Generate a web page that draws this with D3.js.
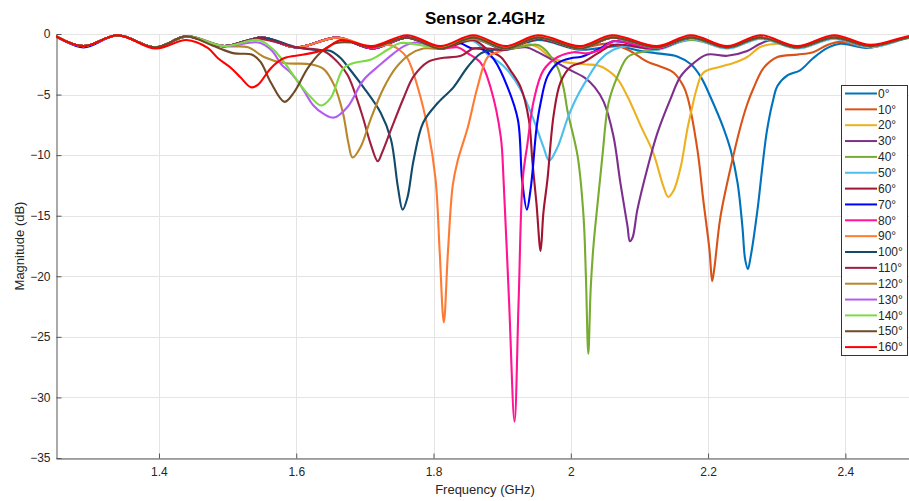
<!DOCTYPE html>
<html>
<head>
<meta charset="utf-8">
<script src="https://cdn.jsdelivr.net/npm/d3@7/dist/d3.min.js"></script>
<style>
  body { margin: 0; background: #fff; }
  svg { display: block; font-family: "Liberation Sans", Arial, sans-serif; }
</style>
</head>
<body>
<svg id="chart" width="909" height="501"></svg>
<script>
// Legend labels (incidence angle)
const angles = ["0°", "10°", "20°", "30°", "40°", "50°", "60°", "70°", "80°", "90°",
                "100°", "110°", "120°", "130°", "140°", "150°", "160°"];

const colors = ["#0072BD", "#D95319", "#EDB120", "#7E2F8E", "#77AC30", "#4DBEEE", "#A2142F",
                "#0000FF", "#FF1493", "#FF7A33", "#124A6C", "#A01E3E", "#B8862B", "#B35CF2",
                "#7CDB45", "#6E4A26", "#FF0000"];

const xTicks = [1.4, 1.6, 1.8, 2, 2.2, 2.4];
const yTicks = [0, -5, -10, -15, -20, -25, -30, -35];

// [frequency GHz, magnitude dB]
const s0 = [[1.25,-0.2],[1.29,-1.0],[1.34,-0.1],[1.395,-1.1],[1.44,-0.2],[1.495,-1.0],[1.55,-0.3],[1.60,-1.1],[1.66,-0.3],[1.71,-1.2],[1.762,-0.3],[1.81,-1.2],[1.858,-0.4],[1.905,-1.3],[1.952,-0.5],[2.014,-1.3],[2.068,-1.0],[2.097,-1.35],[2.126,-1.6],[2.155,-1.85],[2.175,-2.5],[2.19,-3.6],[2.2035,-5.2],[2.222,-7.7],[2.233,-9.6],[2.243,-12.3],[2.25,-15.9],[2.254,-18.6],[2.258,-19.4],[2.262,-18.4],[2.272,-14.5],[2.279,-11.0],[2.286,-7.9],[2.295,-5.4],[2.301,-4.3],[2.316,-3.4],[2.334,-3.0],[2.353,-2.0],[2.374,-1.15],[2.393,-0.8],[2.432,-1.15],[2.49,-0.35],[2.5,-0.3]];
const s10 = [[1.25,-0.2],[1.29,-1.0],[1.34,-0.1],[1.395,-1.1],[1.44,-0.2],[1.495,-1.0],[1.55,-0.3],[1.60,-1.1],[1.66,-0.3],[1.71,-1.2],[1.762,-0.3],[1.81,-1.2],[1.858,-0.3],[1.905,-1.2],[1.952,-0.3],[2.014,-1.1],[2.054,-0.8],[2.083,-1.3],[2.112,-2.3],[2.131,-2.7],[2.15,-3.2],[2.164,-4.3],[2.17,-5.2],[2.1846,-9.6],[2.193,-13.7],[2.202,-17.8],[2.206,-20.4],[2.209,-19.4],[2.218,-15.1],[2.233,-11.0],[2.247,-7.7],[2.257,-5.8],[2.266,-4.5],[2.281,-2.8],[2.301,-1.9],[2.33,-1.7],[2.353,-1.5],[2.374,-0.9],[2.393,-0.65],[2.436,-1.1],[2.49,-0.3],[2.5,-0.25]];
const s20 = [[1.25,-0.2],[1.29,-1.0],[1.34,-0.1],[1.395,-1.1],[1.44,-0.2],[1.495,-1.0],[1.55,-0.3],[1.60,-1.1],[1.66,-0.3],[1.71,-1.2],[1.762,-0.3],[1.81,-1.2],[1.858,-0.3],[1.905,-1.2],[1.935,-0.8],[1.952,-1.1],[1.97,-1.9],[1.99,-2.3],[2.02,-2.5],[2.04,-2.6],[2.054,-3.0],[2.068,-3.7],[2.083,-5.2],[2.102,-7.6],[2.12,-9.8],[2.135,-12.6],[2.142,-13.45],[2.15,-12.9],[2.16,-11.0],[2.17,-7.8],[2.177,-6.0],[2.183,-4.6],[2.193,-3.2],[2.218,-2.7],[2.237,-2.4],[2.257,-1.9],[2.276,-1.07],[2.301,-0.8],[2.33,-1.1],[2.383,-0.3],[2.436,-1.0],[2.49,-0.3],[2.5,-0.25]];
const s30 = [[1.25,-0.2],[1.29,-1.0],[1.34,-0.1],[1.395,-1.1],[1.44,-0.2],[1.495,-1.0],[1.55,-0.3],[1.60,-1.1],[1.66,-0.3],[1.71,-1.2],[1.762,-0.3],[1.81,-1.2],[1.858,-0.3],[1.905,-1.2],[1.935,-1.1],[1.952,-1.5],[1.981,-2.4],[2.0,-3.0],[2.02,-3.6],[2.035,-4.4],[2.048,-5.6],[2.062,-8.4],[2.072,-12.2],[2.0827,-15.9],[2.086,-17.1],[2.09,-16.8],[2.097,-14.5],[2.112,-11.0],[2.126,-8.2],[2.145,-5.4],[2.16,-3.5],[2.179,-2.4],[2.199,-1.7],[2.228,-1.8],[2.257,-1.4],[2.276,-0.8],[2.295,-0.5],[2.33,-1.1],[2.383,-0.3],[2.436,-1.0],[2.49,-0.3],[2.5,-0.25]];
const s40 = [[1.25,-0.2],[1.29,-1.0],[1.34,-0.1],[1.395,-1.1],[1.44,-0.2],[1.495,-1.0],[1.55,-0.3],[1.60,-1.1],[1.66,-0.3],[1.71,-1.2],[1.762,-0.3],[1.81,-1.2],[1.858,-0.3],[1.905,-1.2],[1.952,-0.9],[1.966,-1.5],[1.981,-2.8],[1.99,-4.6],[1.995,-6.3],[2.01,-10.1],[2.0186,-15.1],[2.022,-20.0],[2.0255,-26.4],[2.029,-21.0],[2.033,-17.5],[2.039,-14.0],[2.046,-10.1],[2.055,-5.7],[2.068,-3.5],[2.083,-1.9],[2.102,-1.5],[2.126,-1.3],[2.175,-0.5],[2.228,-1.1],[2.276,-0.3],[2.33,-1.1],[2.383,-0.3],[2.436,-1.0],[2.49,-0.3],[2.5,-0.25]];
const s50 = [[1.25,-0.2],[1.29,-1.0],[1.34,-0.1],[1.395,-1.1],[1.44,-0.2],[1.495,-1.0],[1.55,-0.3],[1.60,-1.1],[1.66,-0.3],[1.71,-1.2],[1.762,-0.3],[1.81,-1.2],[1.858,-0.6],[1.879,-1.7],[1.895,-2.3],[1.908,-3.0],[1.927,-4.6],[1.946,-7.1],[1.96,-9.3],[1.9685,-10.45],[1.981,-9.3],[1.995,-7.0],[2.008,-5.3],[2.024,-3.7],[2.043,-2.1],[2.062,-1.3],[2.083,-1.0],[2.126,-1.3],[2.175,-0.4],[2.228,-1.2],[2.276,-0.4],[2.33,-1.2],[2.383,-0.4],[2.436,-1.1],[2.49,-0.35],[2.5,-0.3]];
const s60 = [[1.25,-0.2],[1.29,-1.0],[1.34,-0.1],[1.395,-1.1],[1.44,-0.2],[1.495,-1.0],[1.55,-0.3],[1.60,-1.1],[1.66,-0.3],[1.71,-1.2],[1.762,-0.3],[1.81,-1.2],[1.858,-0.5],[1.879,-1.3],[1.898,-1.9],[1.912,-3.0],[1.927,-4.4],[1.939,-7.1],[1.944,-10.5],[1.95,-14.0],[1.956,-17.9],[1.96,-14.8],[1.966,-12.0],[1.975,-6.7],[1.985,-4.0],[2.0,-2.7],[2.019,-2.3],[2.039,-1.6],[2.062,-0.9],[2.126,-1.2],[2.175,-0.3],[2.228,-1.1],[2.276,-0.3],[2.33,-1.1],[2.383,-0.3],[2.436,-1.0],[2.49,-0.3],[2.5,-0.25]];
const s70 = [[1.25,-0.2],[1.29,-1.1],[1.34,-0.1],[1.395,-1.1],[1.44,-0.2],[1.495,-1.0],[1.55,-0.3],[1.60,-1.1],[1.66,-0.3],[1.71,-1.2],[1.762,-0.3],[1.81,-1.2],[1.835,-0.7],[1.854,-1.15],[1.873,-1.3],[1.888,-2.1],[1.908,-4.4],[1.923,-7.1],[1.929,-12.0],[1.936,-14.5],[1.941,-13.0],[1.944,-11.5],[1.95,-7.8],[1.956,-5.7],[1.966,-3.5],[1.981,-2.4],[2.0,-2.0],[2.014,-1.9],[2.024,-1.7],[2.043,-1.2],[2.062,-0.6],[2.126,-1.2],[2.175,-0.3],[2.228,-1.1],[2.276,-0.3],[2.33,-1.1],[2.383,-0.3],[2.436,-1.0],[2.49,-0.3],[2.5,-0.25]];
const s80 = [[1.25,-0.2],[1.29,-1.0],[1.34,-0.1],[1.395,-1.1],[1.44,-0.2],[1.495,-1.0],[1.55,-0.3],[1.60,-1.1],[1.66,-0.3],[1.71,-1.2],[1.762,-0.3],[1.81,-1.2],[1.835,-1.1],[1.85,-1.6],[1.869,-2.4],[1.883,-4.4],[1.898,-8.5],[1.902,-12.0],[1.91,-22.0],[1.918,-32.0],[1.924,-22.0],[1.93,-12.0],[1.937,-9.0],[1.946,-5.5],[1.96,-3.0],[1.981,-1.9],[2.004,-1.5],[2.024,-1.6],[2.043,-1.3],[2.062,-0.6],[2.126,-1.2],[2.175,-0.3],[2.228,-1.1],[2.276,-0.3],[2.33,-1.1],[2.383,-0.3],[2.436,-1.0],[2.49,-0.3],[2.5,-0.25]];
const s90 = [[1.25,-0.2],[1.29,-1.0],[1.34,-0.1],[1.395,-1.1],[1.44,-0.2],[1.495,-1.0],[1.55,-0.3],[1.60,-1.1],[1.66,-0.3],[1.71,-1.1],[1.735,-0.9],[1.75,-1.3],[1.762,-2.0],[1.777,-4.4],[1.792,-7.9],[1.803,-12.0],[1.809,-18.0],[1.815,-23.8],[1.821,-18.0],[1.828,-12.5],[1.835,-10.5],[1.85,-7.7],[1.864,-4.4],[1.879,-1.9],[1.893,-1.5],[1.905,-1.3],[1.952,-0.3],[2.014,-1.2],[2.06,-0.3],[2.126,-1.1],[2.175,-0.3],[2.228,-1.1],[2.276,-0.3],[2.33,-1.1],[2.383,-0.3],[2.436,-1.0],[2.49,-0.3],[2.5,-0.25]];
const s100 = [[1.25,-0.2],[1.29,-1.0],[1.34,-0.1],[1.395,-1.1],[1.44,-0.2],[1.495,-1.0],[1.55,-0.3],[1.60,-1.1],[1.626,-1.3],[1.65,-1.4],[1.665,-2.0],[1.675,-2.7],[1.698,-4.4],[1.723,-6.5],[1.738,-8.7],[1.748,-12.6],[1.755,-14.5],[1.762,-13.5],[1.771,-10.4],[1.785,-7.3],[1.806,-5.7],[1.829,-4.4],[1.85,-2.7],[1.869,-1.6],[1.888,-1.3],[1.905,-1.3],[1.952,-0.4],[2.014,-1.2],[2.06,-0.3],[2.126,-1.1],[2.175,-0.3],[2.228,-1.1],[2.276,-0.3],[2.33,-1.1],[2.383,-0.3],[2.436,-1.0],[2.49,-0.3],[2.5,-0.25]];
const s110 = [[1.25,-0.2],[1.29,-1.0],[1.34,-0.1],[1.395,-1.1],[1.44,-0.2],[1.495,-1.0],[1.545,-0.4],[1.60,-1.1],[1.64,-1.4],[1.66,-2.3],[1.675,-3.4],[1.695,-6.5],[1.708,-9.0],[1.7188,-10.5],[1.725,-9.8],[1.738,-7.9],[1.757,-5.2],[1.771,-3.5],[1.792,-2.3],[1.81,-2.0],[1.84,-1.8],[1.858,-1.2],[1.88,-1.2],[1.905,-1.3],[1.952,-0.4],[2.014,-1.2],[2.06,-0.3],[2.126,-1.1],[2.175,-0.3],[2.228,-1.1],[2.276,-0.3],[2.33,-1.1],[2.383,-0.3],[2.436,-1.0],[2.49,-0.3],[2.5,-0.25]];
const s120 = [[1.25,-0.2],[1.29,-1.0],[1.34,-0.1],[1.395,-1.1],[1.44,-0.2],[1.495,-1.0],[1.53,-1.1],[1.553,-1.9],[1.582,-2.4],[1.621,-2.5],[1.64,-2.9],[1.655,-4.2],[1.668,-6.5],[1.676,-9.0],[1.682,-10.2],[1.694,-9.3],[1.708,-7.1],[1.727,-4.5],[1.745,-2.8],[1.765,-1.7],[1.785,-1.2],[1.81,-1.2],[1.858,-0.4],[1.905,-1.2],[1.952,-0.3],[2.014,-1.2],[2.06,-0.3],[2.126,-1.1],[2.175,-0.3],[2.228,-1.1],[2.276,-0.3],[2.33,-1.1],[2.383,-0.3],[2.436,-1.0],[2.49,-0.3],[2.5,-0.25]];
const s130 = [[1.25,-0.2],[1.29,-1.0],[1.34,-0.1],[1.395,-1.1],[1.44,-0.2],[1.495,-1.0],[1.545,-0.7],[1.565,-1.4],[1.578,-2.5],[1.592,-3.2],[1.607,-4.3],[1.625,-5.9],[1.64,-6.6],[1.655,-6.9],[1.675,-6.0],[1.698,-3.8],[1.723,-2.5],[1.742,-1.6],[1.757,-1.0],[1.775,-0.7],[1.81,-1.1],[1.858,-0.3],[1.905,-1.2],[1.952,-0.3],[2.014,-1.2],[2.06,-0.3],[2.126,-1.1],[2.175,-0.3],[2.228,-1.1],[2.276,-0.3],[2.33,-1.1],[2.383,-0.3],[2.436,-1.0],[2.49,-0.3],[2.5,-0.25]];
const s140 = [[1.25,-0.2],[1.29,-1.0],[1.34,-0.1],[1.395,-1.1],[1.44,-0.2],[1.495,-1.0],[1.545,-0.5],[1.565,-1.2],[1.578,-2.0],[1.602,-3.9],[1.621,-5.2],[1.636,-5.9],[1.65,-5.3],[1.669,-2.8],[1.684,-2.4],[1.709,-2.1],[1.733,-1.3],[1.752,-0.75],[1.81,-1.1],[1.858,-0.3],[1.905,-1.2],[1.952,-0.3],[2.014,-1.2],[2.06,-0.3],[2.126,-1.1],[2.175,-0.3],[2.228,-1.1],[2.276,-0.3],[2.33,-1.1],[2.383,-0.3],[2.436,-1.0],[2.49,-0.3],[2.5,-0.25]];
const s150 = [[1.25,-0.2],[1.29,-1.0],[1.34,-0.1],[1.395,-1.1],[1.44,-0.2],[1.48,-1.0],[1.51,-1.6],[1.535,-1.7],[1.548,-2.3],[1.563,-4.0],[1.583,-5.6],[1.597,-4.8],[1.617,-2.8],[1.636,-1.5],[1.658,-0.75],[1.68,-0.7],[1.71,-1.1],[1.762,-0.3],[1.81,-1.2],[1.858,-0.3],[1.905,-1.2],[1.952,-0.3],[2.014,-1.2],[2.06,-0.3],[2.126,-1.1],[2.175,-0.3],[2.228,-1.1],[2.276,-0.3],[2.33,-1.1],[2.383,-0.3],[2.436,-1.0],[2.49,-0.3],[2.5,-0.25]];
const s160 = [[1.25,-0.2],[1.29,-1.0],[1.34,-0.1],[1.395,-1.2],[1.44,-0.5],[1.471,-1.15],[1.486,-2.0],[1.505,-2.8],[1.519,-3.6],[1.534,-4.4],[1.544,-4.2],[1.559,-3.1],[1.567,-2.6],[1.582,-2.0],[1.611,-1.7],[1.64,-1.3],[1.665,-0.5],[1.71,-1.0],[1.762,-0.1],[1.81,-1.0],[1.858,-0.1],[1.905,-1.0],[1.952,-0.1],[2.014,-1.0],[2.06,-0.1],[2.126,-1.0],[2.175,-0.1],[2.228,-1.0],[2.276,-0.1],[2.33,-1.0],[2.383,-0.1],[2.436,-0.9],[2.49,-0.2],[2.5,-0.15]];

const seriesData = [s0, s10, s20, s30, s40, s50, s60, s70, s80, s90, s100, s110, s120, s130, s140, s150, s160];

const svg = d3.select("#chart");
const margin = { top: 34, left: 56, bottom: 43 };
const height = 501;
const plotBottom = height - margin.bottom;

const x = d3.scaleLinear().domain([1.25, 2.5]).range([margin.left, 914]);
const y = d3.scaleLinear().domain([-35, 0]).range([plotBottom, margin.top]);

const fontColor = "#262626";

// Grid
svg.append("g").selectAll("line.gx")
    .data(xTicks).join("line")
    .attr("x1", d => Math.round(x(d)) + 0.5).attr("x2", d => Math.round(x(d)) + 0.5)
    .attr("y1", margin.top).attr("y2", plotBottom)
    .attr("stroke", "#e4e4e4").attr("stroke-width", 1);

svg.append("g").selectAll("line.gy")
    .data(yTicks).join("line")
    .attr("x1", margin.left).attr("x2", 909)
    .attr("y1", d => Math.round(y(d)) + 0.5).attr("y2", d => Math.round(y(d)) + 0.5)
    .attr("stroke", "#e4e4e4").attr("stroke-width", 1);

// Axes (MATLAB style: inward ticks)
const xAxis = svg.append("g")
    .attr("transform", `translate(0, ${plotBottom + 0.5})`)
    .call(d3.axisBottom(x).tickValues(xTicks).tickSizeInner(-5).tickSizeOuter(0).tickPadding(7).tickFormat(d3.format("")));
const yAxis = svg.append("g")
    .attr("transform", `translate(${margin.left + 0.5}, 0)`)
    .call(d3.axisLeft(y).tickValues(yTicks).tickSizeInner(-5).tickSizeOuter(0).tickPadding(6).tickFormat(d3.format("")));

[xAxis, yAxis].forEach(a => {
    a.select(".domain").attr("stroke", "#555").attr("stroke-width", 1);
    a.selectAll(".tick line").attr("stroke", "#555");
    a.selectAll(".tick text")
        .attr("fill", fontColor)
        .style("font-size", "12px")
        .style("font-family", "'Liberation Sans', Arial, sans-serif");
});
xAxis.selectAll(".tick text").attr("dy", "0.9em");

// Lines
svg.append("clipPath").attr("id", "plotclip")
    .append("rect")
    .attr("x", margin.left).attr("y", margin.top - 6)
    .attr("width", 914 - margin.left).attr("height", plotBottom - margin.top + 6);

const line = d3.line()
    .x(d => x(d[0]))
    .y(d => y(d[1]))
    .curve(d3.curveCatmullRom.alpha(0.5));

svg.append("g").attr("clip-path", "url(#plotclip)")
    .selectAll("path")
    .data(seriesData).join("path")
    .attr("d", line)
    .attr("fill", "none")
    .attr("stroke", (d, i) => colors[i])
    .attr("stroke-width", 2.1)
    .attr("stroke-linejoin", "round");

// Title
svg.append("text")
    .attr("x", (margin.left + 914) / 2)
    .attr("y", 24)
    .attr("text-anchor", "middle")
    .attr("font-size", 17)
    .attr("font-weight", "bold")
    .attr("fill", "#000")
    .text("Sensor 2.4GHz");

// Axis labels
svg.append("text")
    .attr("x", (margin.left + 914) / 2)
    .attr("y", 494)
    .attr("text-anchor", "middle")
    .attr("font-size", 13)
    .attr("fill", fontColor)
    .text("Frequency (GHz)");

svg.append("text")
    .attr("transform", "rotate(-90)")
    .attr("x", -(margin.top + plotBottom) / 2)
    .attr("y", 24)
    .attr("text-anchor", "middle")
    .attr("font-size", 13)
    .attr("fill", fontColor)
    .text("Magnitude (dB)");

// Legend
const legend = svg.append("g").attr("transform", "translate(841, 85)");
legend.append("rect")
    .attr("x", 0.5).attr("y", 0.5)
    .attr("width", 66).attr("height", 270)
    .attr("fill", "#fff")
    .attr("stroke", "#333").attr("stroke-width", 1);

const rows = legend.selectAll("g.row")
    .data(angles).join("g")
    .attr("transform", (d, i) => `translate(0, ${8.5 + i * 15.85})`);

rows.append("line")
    .attr("x1", 4).attr("x2", 36)
    .attr("stroke", (d, i) => colors[i])
    .attr("stroke-width", 2);

rows.append("text")
    .attr("x", 37)
    .attr("dy", "0.35em")
    .attr("font-size", 12)
    .attr("fill", fontColor)
    .text(d => d);
</script>
</body>
</html>
